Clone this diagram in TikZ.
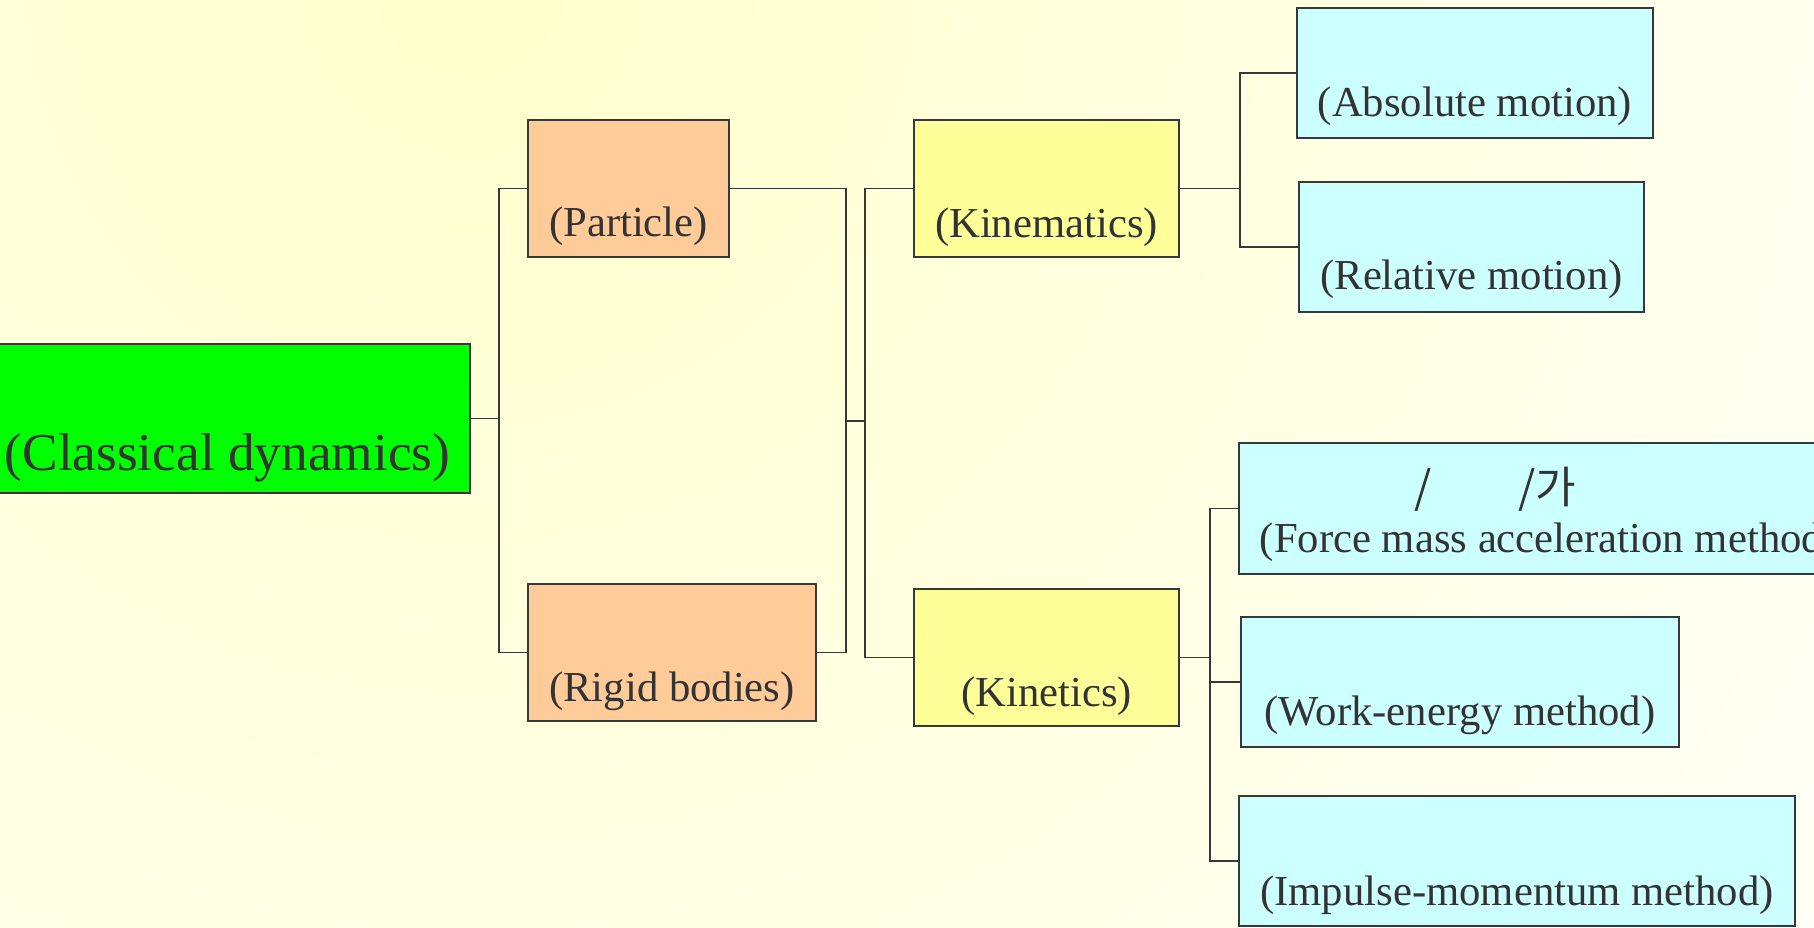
\documentclass[tikz,border=0pt]{standalone}
\usepackage{fontspec}
\setmainfont{Liberation Serif}
\newfontfamily\krfont{Noto Sans CJK KR}
\definecolor{bgin}{HTML}{FFFFCC}
\definecolor{bgout}{HTML}{FFFFF8}
\definecolor{edge}{HTML}{383838}
\definecolor{txt}{HTML}{333333}
\definecolor{cgreen}{HTML}{00FF00}
\definecolor{corange}{HTML}{FFCC99}
\definecolor{cyellow}{HTML}{FFFF99}
\definecolor{ccyan}{HTML}{CCFFFF}
\begin{document}
\begin{tikzpicture}[x=1pt,y=-1pt,
  box/.style={draw=edge, line width=1.6pt, rectangle, inner sep=0pt, text=txt,
    font=\fontsize{42.7}{48}\selectfont},
  conn/.style={draw=edge, line width=1.5pt}]
\useasboundingbox (0,0) rectangle (1814,928);
\clip (0,0) rectangle (1814,928);
% background
\fill[bgout] (0,0) rectangle (1814,928);
\fill[inner color=bgin, outer color=bgout] (470,-20) circle (1700);
% boxes
\node[box, fill=cgreen, minimum width=485pt, text height=126pt, text depth=23pt,
  font=\fontsize{53.3}{60}\selectfont] (cd) at (227.5,418.5) {(Classical dynamics)};
\node[box, fill=corange, minimum width=201pt, text height=116pt, text depth=21pt] (pa) at (628.5,188.5) {(Particle)};
\node[box, fill=corange, minimum width=288pt, text height=117pt, text depth=20pt] (rb) at (672,652.5) {(Rigid bodies)};
\node[box, fill=cyellow, minimum width=265pt, text height=117pt, text depth=20pt] (km) at (1046.5,188.5) {(Kinematics)};
\node[box, fill=cyellow, minimum width=265pt, text height=117pt, text depth=20pt] (kt) at (1046.5,657.5) {(Kinetics)};
\node[box, fill=ccyan, minimum width=356pt, text height=109pt, text depth=21pt] (ab) at (1475,73) {(Absolute motion)};
\node[box, fill=ccyan, minimum width=345pt, text height=107pt, text depth=23pt] (re) at (1471.5,247) {(Relative motion)};
\node[box, fill=ccyan, minimum width=619pt, text height=109pt, text depth=22pt] (fm) at (1548.5,508.5) {(Force mass acceleration method)};
\node[box, fill=ccyan, minimum width=438pt, text height=108pt, text depth=22pt] (we) at (1460,682) {(Work-energy method)};
\node[box, fill=ccyan, minimum width=556pt, text height=109pt, text depth=21pt] (im) at (1517,861) {(Impulse-momentum method)};
\node[anchor=base west, inner sep=0pt, text=txt, font=\krfont\fontsize{44}{50}\selectfont] (fmk) at (1414,503)
  {\makebox[0pt][l]{/}\hspace{104pt}/가};
% junctions
\coordinate (j1) at (499,418.5);
\coordinate (j2) at (846,421);
\coordinate (j3) at (865,421);
\coordinate (j4) at (1240,188.5);
\coordinate (j5) at (1210,657.5);
% connectors
\draw[conn] (cd.east) -- (j1);
\draw[conn] (pa.west) -| (j1) |- (rb.west);
\draw[conn] (pa.east) -| (j2) |- (rb.east);
\draw[conn] (j2) -- (j3);
\draw[conn] (km.west) -| (j3) |- (kt.west);
\draw[conn] (km.east) -- (j4);
\draw[conn] (ab.west) -| (j4) |- (re.west);
\draw[conn] (kt.east) -- (j5);
\draw[conn] (fm.west) -| (j5) |- (im.west);
\draw[conn] (j5) |- (we.west);
\end{tikzpicture}
\end{document}
